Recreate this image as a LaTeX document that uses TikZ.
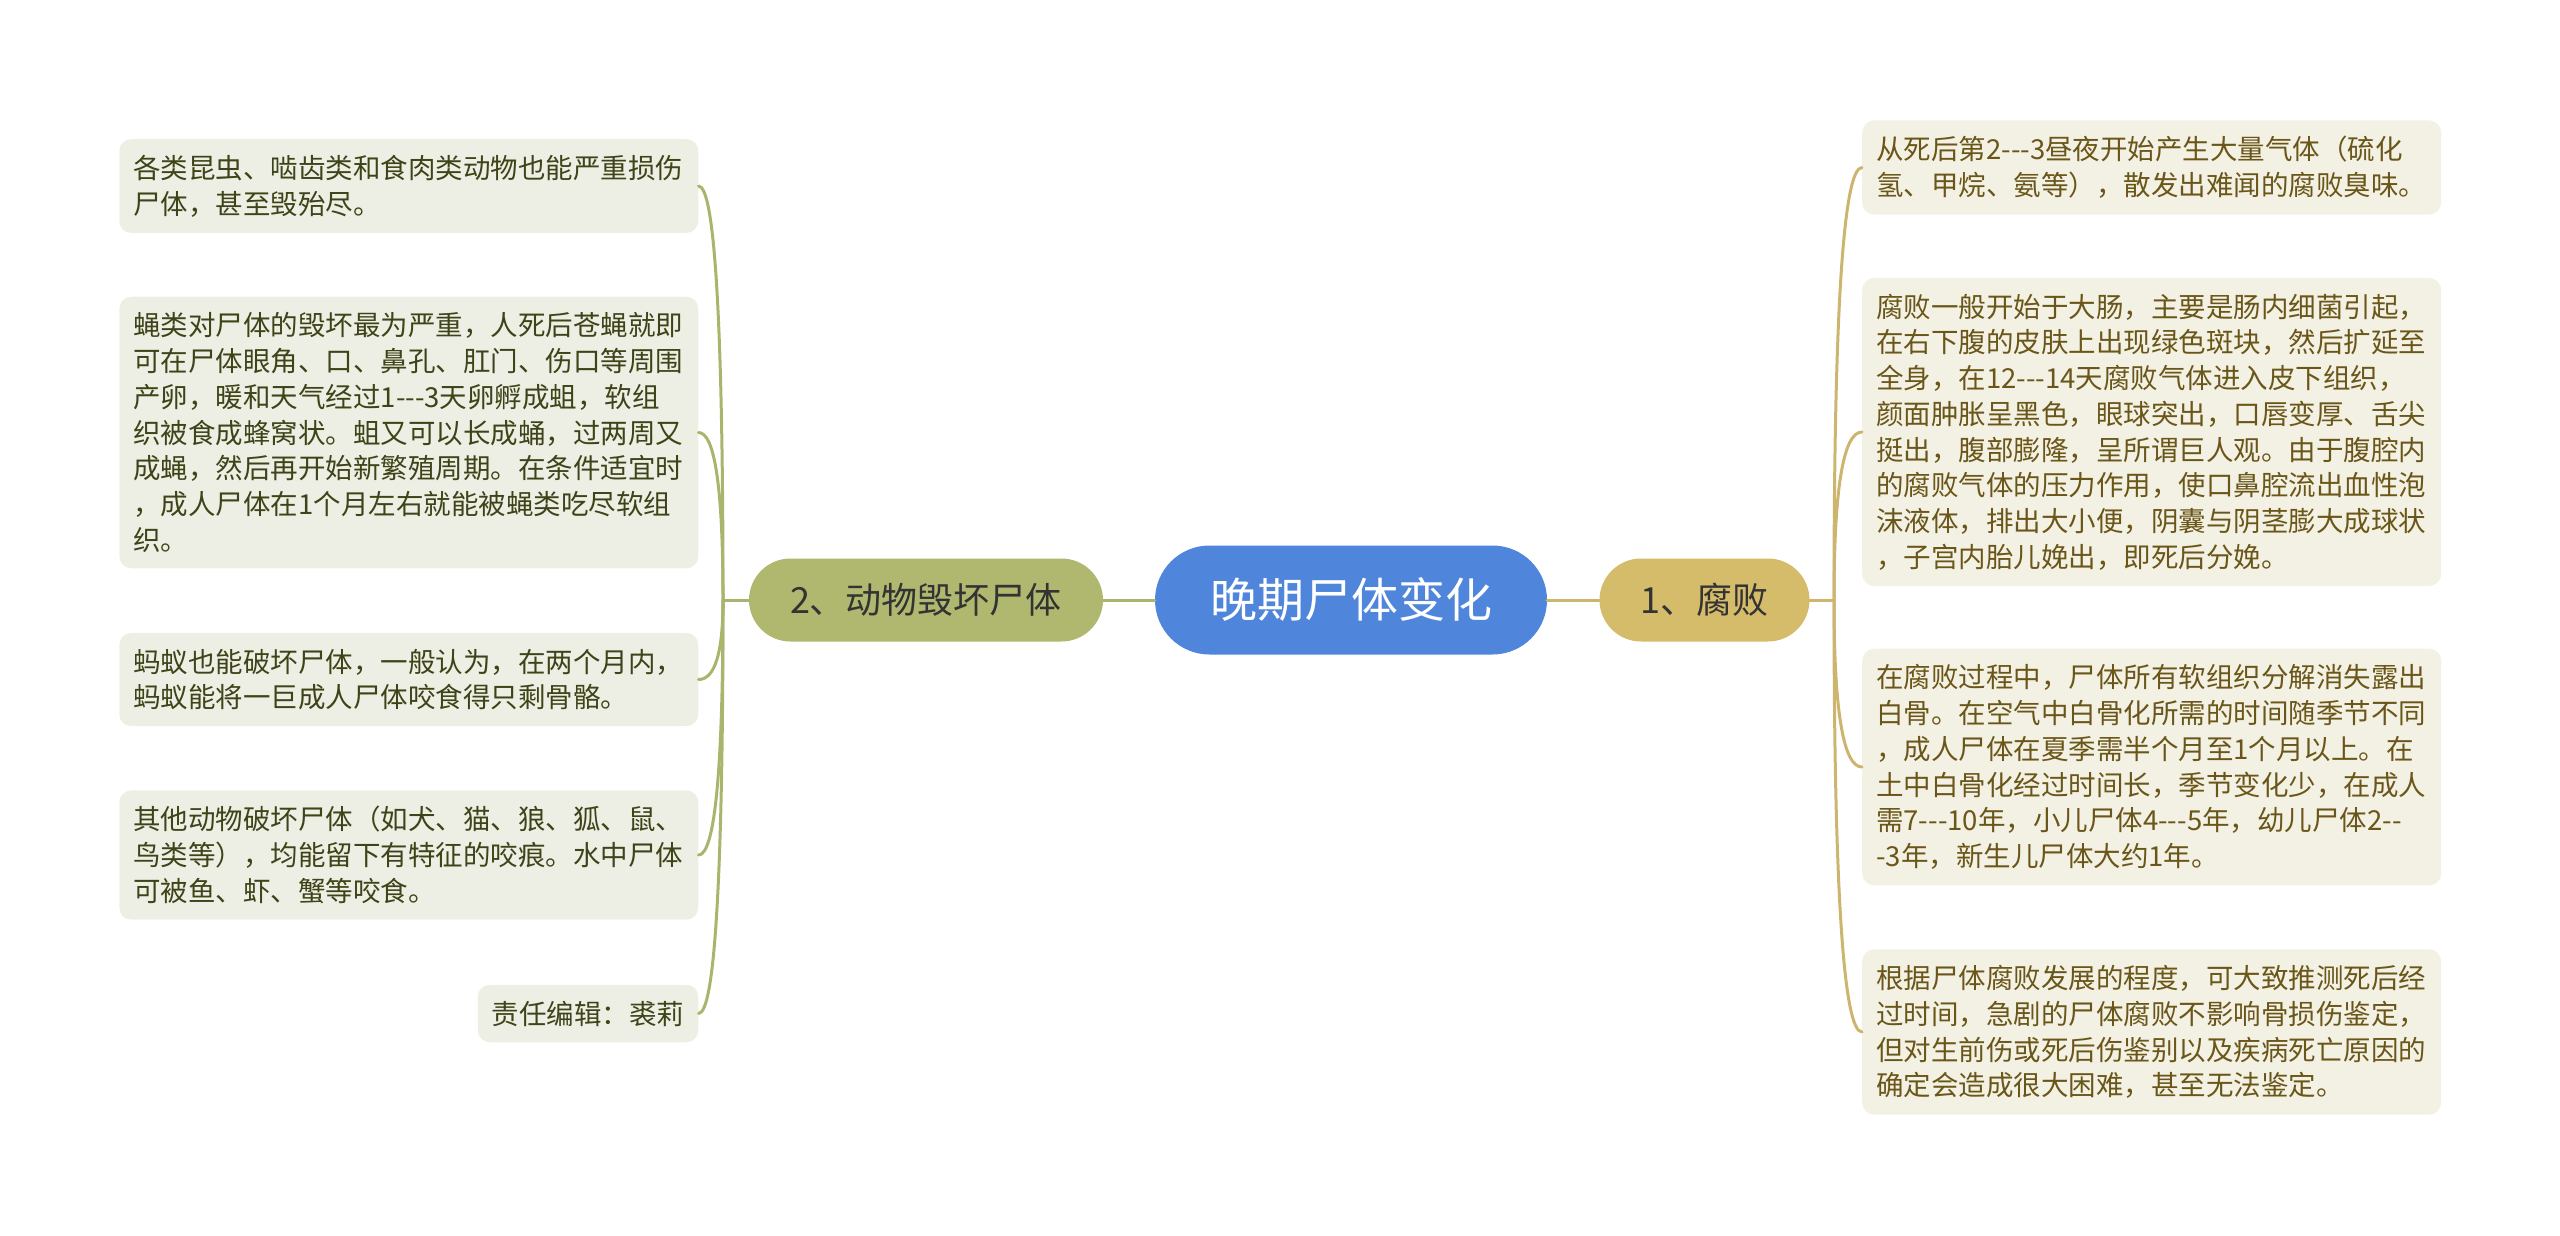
\documentclass[tikz,border=0pt]{standalone}
\usepackage{fontspec}
\setmainfont{Noto Sans CJK SC}
\usetikzlibrary{calc}
\definecolor{rootblue}{HTML}{4F86DB}
\definecolor{olivefill}{HTML}{B0B86F}
\definecolor{oliveline}{HTML}{A9B46C}
\definecolor{goldfill}{HTML}{D4BC6B}
\definecolor{goldline}{HTML}{CDB56F}
\definecolor{leafg}{HTML}{EEEFE4}
\definecolor{leafy}{HTML}{F3F1E3}
\definecolor{txtg}{HTML}{3E4318}
\definecolor{txty}{HTML}{6A5619}
\tikzset{
  twig/.style={to path={.. controls ($(\tikztostart)!.667!(\tikztostart |- \tikztotarget)$)
      and ($(\tikztotarget)!.667!(\tikztostart |- \tikztotarget)$) .. (\tikztotarget)}},
}
\begin{document}
\begin{tikzpicture}[x=1pt,y=-1pt,
    leaf/.style={rounded corners=12pt, inner xsep=14pt, inner ysep=16pt, align=left,
      font=\fontsize{27.5}{35.7}\selectfont},
    note/.style={leaf, fill=leafg, text=txtg, anchor=east},
    leafL/.style={note, text width=551pt},
    leafR/.style={leaf, fill=leafy, text=txty, anchor=west, text width=551pt},
    branch/.style={rounded corners=41.5pt, minimum height=83pt, inner xsep=41pt,
      text=black!80, font=\fontsize{36}{40}\selectfont},
    lineL/.style={draw=oliveline, line width=3pt, line cap=round},
    lineR/.style={draw=goldline, line width=3pt, line cap=round}]
  \useasboundingbox (0,0) rectangle (2560,1235);
  % centre and branches
  \node (c) at (1351,600) [fill=rootblue, text=white, rounded corners=54.5pt,
    minimum height=109pt, inner xsep=55pt, font=\fontsize{47}{50}\selectfont] {晚期尸体变化};
  \node (b2) at (926,600) [branch, fill=olivefill] {2、动物毁坏尸体};
  \node (b1) at (1704.5,600) [branch, fill=goldfill] {1、腐败};
  \coordinate (hl) at (723,600);
  \coordinate (hr) at (1834,600);
  % left leaves
  \node (l1) at (698.5,186) [leafL] {各类昆虫、啮齿类和食肉类动物也能严重损伤\\尸体，甚至毁殆尽。};
  \node (l2) at (698.5,432.5) [leafL] {蝇类对尸体的毁坏最为严重，人死后苍蝇就即\\可在尸体眼角、口、鼻孔、肛门、伤口等周围\\产卵，暖和天气经过1-{}-{}-3天卵孵成蛆，软组\\织被食成蜂窝状。蛆又可以长成蛹，过两周又\\成蝇，然后再开始新繁殖周期。在条件适宜时\\，成人尸体在1个月左右就能被蝇类吃尽软组\\织。};
  \node (l3) at (698.5,679.5) [leafL] {蚂蚁也能破坏尸体，一般认为，在两个月内，\\蚂蚁能将一巨成人尸体咬食得只剩骨骼。};
  \node (l4) at (698.5,855) [leafL] {其他动物破坏尸体（如犬、猫、狼、狐、鼠、\\鸟类等），均能留下有特征的咬痕。水中尸体\\可被鱼、虾、蟹等咬食。};
  \node (l5) at (698.5,1013.5) [note] {责任编辑：裘莉};
  % right leaves
  \node (r1) at (1862,167.5) [leafR] {从死后第2-{}-{}-3昼夜开始产生大量气体（硫化\\氢、甲烷、氨等），散发出难闻的腐败臭味。};
  \node (r2) at (1862,432) [leafR] {腐败一般开始于大肠，主要是肠内细菌引起，\\在右下腹的皮肤上出现绿色斑块，然后扩延至\\全身，在12-{}-{}-14天腐败气体进入皮下组织，\\颜面肿胀呈黑色，眼球突出，口唇变厚、舌尖\\挺出，腹部膨隆，呈所谓巨人观。由于腹腔内\\的腐败气体的压力作用，使口鼻腔流出血性泡\\沫液体，排出大小便，阴囊与阴茎膨大成球状\\，子宫内胎儿娩出，即死后分娩。};
  \node (r3) at (1862,767) [leafR] {在腐败过程中，尸体所有软组织分解消失露出\\白骨。在空气中白骨化所需的时间随季节不同\\，成人尸体在夏季需半个月至1个月以上。在\\土中白骨化经过时间长，季节变化少，在成人\\需7-{}-{}-10年，小儿尸体4-{}-{}-5年，幼儿尸体2-{}-\\-3年，新生儿尸体大约1年。};
  \node (r4) at (1862,1032) [leafR] {根据尸体腐败发展的程度，可大致推测死后经\\过时间，急剧的尸体腐败不影响骨损伤鉴定，\\但对生前伤或死后伤鉴别以及疾病死亡原因的\\确定会造成很大困难，甚至无法鉴定。};
  % connectors
  \draw [lineL] (c.west) -- (b2.east);
  \draw [lineR] (c.east) -- (b1.west);
  \draw [lineL] (b2.west) -- (hl);
  \draw [lineR] (b1.east) -- (hr);
  \draw [lineL] (hl) to [twig] (l1.east);
  \draw [lineL] (hl) to [twig] (l2.east);
  \draw [lineL] (hl) to [twig] (l3.east);
  \draw [lineL] (hl) to [twig] (l4.east);
  \draw [lineL] (hl) to [twig] (l5.east);
  \draw [lineR] (hr) to [twig] (r1.west);
  \draw [lineR] (hr) to [twig] (r2.west);
  \draw [lineR] (hr) to [twig] (r3.west);
  \draw [lineR] (hr) to [twig] (r4.west);
\end{tikzpicture}
\end{document}
